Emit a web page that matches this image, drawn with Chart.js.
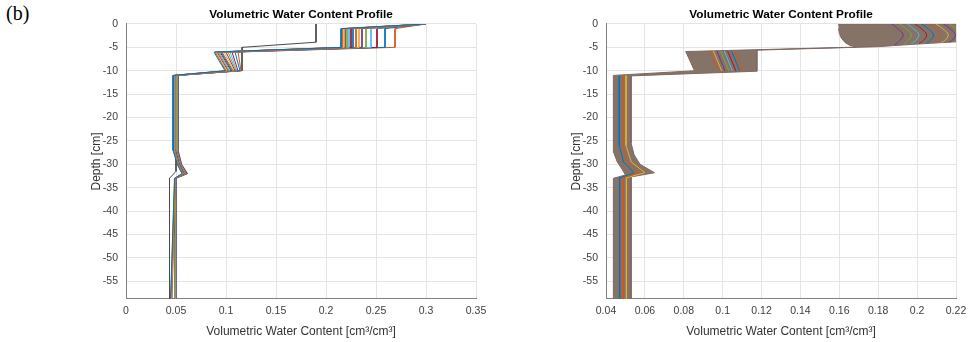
<!DOCTYPE html>
<html>
<head>
<meta charset="utf-8">
<script src="https://cdn.jsdelivr.net/npm/chart.js@4.4.1/dist/chart.umd.min.js"></script>
<style>
  body { margin: 0; background: #fff; width: 970px; height: 342px; overflow: hidden; position: relative; }
  .panel { position: absolute; top: 0; width: 430px; height: 342px; }
  #tag { position: absolute; left: 6px; top: 2px; font: 20px "Liberation Serif", "Times New Roman", serif; color: #000; }
</style>
</head>
<body>
<div id="tag">(b)</div>
<div class="panel" style="left:86px"><canvas id="leftChart"></canvas></div>
<div class="panel" style="left:566px"><canvas id="rightChart"></canvas></div>
<script>
// MATLAB default line colours, cycled over the time steps
const lineColors = ['#0072BD', '#D95319', '#EDB120', '#7E2F8E', '#77AC30', '#4DBEEE', '#A2142F'];

// tick labels
const depthTicks = [0, -5, -10, -15, -20, -25, -30, -35, -40, -45, -50, -55];
const depthMin = -58.8;
const leftXTicks = [0, 0.05, 0.1, 0.15, 0.2, 0.25, 0.3, 0.35];
const rightXTicks = [0.04, 0.06, 0.08, 0.1, 0.12, 0.14, 0.16, 0.18, 0.2, 0.22];

// ---- left panel: each profile read at these depths [cm]
const leftKnots = [0, -1, -5, -6, -10, -11, -27, -30, -32, -33, -58.8];
const leftSurface = 0.30;
const leftTop = [0.215, 0.216, 0.218, 0.219, 0.221, 0.223, 0.225, 0.227, 0.230, 0.233, 0.236, 0.240, 0.245, 0.251, 0.259, 0.269];
const leftLayer2Top = [0.088, 0.089, 0.090, 0.091, 0.092, 0.093, 0.094, 0.095, 0.096, 0.098, 0.100, 0.102, 0.104, 0.106, 0.109, 0.112];
const leftLayer2Bottom = [0.099, 0.100, 0.101, 0.102, 0.103, 0.104, 0.105, 0.106, 0.107, 0.108, 0.109, 0.110, 0.111, 0.112, 0.114, 0.115];
const leftLayer3 = [0.0470, 0.0474, 0.0478, 0.0482, 0.0485, 0.0488, 0.0491, 0.0494, 0.0497, 0.0500, 0.0503, 0.0507, 0.0510, 0.0514, 0.0518, 0.0522];
const leftBulge = [0.0512, 0.0515, 0.0518, 0.0521, 0.0524, 0.0527, 0.0530, 0.0533, 0.0536, 0.0539, 0.0542, 0.0545, 0.0548, 0.0551, 0.0554, 0.0557];
const leftPeak = [0.0560, 0.0563, 0.0566, 0.0569, 0.0572, 0.0575, 0.0578, 0.0581, 0.0585, 0.0589, 0.0593, 0.0597, 0.0601, 0.0606, 0.0611, 0.0616];
const leftDeep = [0.0485, 0.0488, 0.0490, 0.0492, 0.0494, 0.0496, 0.0498, 0.0500, 0.0502, 0.0485, 0.0487, 0.0490, 0.0492, 0.0494, 0.0497, 0.0500];
const leftBottom = [0.0445, 0.0450, 0.0455, 0.0460, 0.0495, 0.0497, 0.0499, 0.0500, 0.0502, 0.0448, 0.0490, 0.0493, 0.0496, 0.0499, 0.0502, 0.0505];
// initial condition profile (dark grey)
const leftInitialX = [0.190, 0.190, 0.116, 0.116, 0.050, 0.050, 0.0435, 0.0435];
const leftInitialDepth = [0, -3.9, -5.0, -10.0, -11.0, -31.5, -33.0, -58.8];

// ---- right panel: outline of the dense bundle of profiles
const rightEnvelopeX = [0.1594, 0.2205, 0.2205, 0.2000, 0.1800, 0.1176, 0.1176, 0.0529, 0.0529, 0.0545, 0.0575, 0.0649, 0.0529, 0.0529,
  0.0438, 0.0438, 0.0500, 0.0485, 0.0458, 0.0440, 0.0438, 0.0855, 0.0810, 0.1690, 0.1655, 0.1630, 0.1610, 0.1600, 0.1596];
const rightEnvelopeDepth = [0, 0, -3.8, -4.3, -4.85, -5.6, -10.1, -11.1, -25.5, -28.0, -30.0, -31.8, -32.7, -58.8,
  -58.8, -33.0, -32.3, -31.2, -29.5, -27.5, -11.0, -10.0, -5.9, -4.95, -4.6, -4.0, -3.0, -2.0, -1.0];
// sparse profiles visible in the surface layer
const rightArcDepths = [0, -1, -2.3, -3.5];
const rightArcTop = [0.1869, 0.1911, 0.1949, 0.1989, 0.2023, 0.2061, 0.2097, 0.2135, 0.2166];
const rightArcUpper = [0.1900, 0.1942, 0.1981, 0.2021, 0.2056, 0.2094, 0.2131, 0.2169, 0.2201];
const rightArcMid = [0.1928, 0.1970, 0.2009, 0.2049, 0.2084, 0.2122, 0.2160, 0.2197, 0.2230];
const rightArcLower = [0.1912, 0.1954, 0.1993, 0.2033, 0.2068, 0.2106, 0.2144, 0.2181, 0.2214];
const rightArcEndX = [0.1885, 0.1930, 0.1970, 0.2010, 0.2048, 0.2088, 0.2125, 0.2163, 0.2198];
const rightArcEndDepth = [-4.45, -4.35, -4.25, -4.2, -4.1, -4.0, -3.95, -3.9, -3.85];
// sparse profiles visible in the second layer
const rightMidTopX = [0.0935, 0.0952, 0.0970, 0.0990, 0.1008, 0.1025, 0.1045, 0.1062];
const rightMidBottomX = [0.0978, 0.0995, 0.1012, 0.1032, 0.1050, 0.1068, 0.1088, 0.1105];
// sparse profiles visible in the deep layer
const rightLowDepths = [-11.05, -26, -29.5, -31.8, -32.9, -58.8];
const rightLowX = [0.0468, 0.0485, 0.0503];
const rightLowBendX = [0.0490, 0.0510, 0.0530];
const rightLowTipX = [0.0545, 0.0570, 0.0600];
const rightLowDeepX = [0.0470, 0.0488, 0.0505];

Chart.defaults.font.family = '"Liberation Sans", Arial, sans-serif';

function profile(xs, ys) {
  return xs.map((x, k) => ({ x: x, y: ys[k] }));
}

function lineSet(data, color, extra) {
  return Object.assign({ data: data, showLine: true, borderColor: color, backgroundColor: color,
    borderWidth: 1, pointRadius: 0, fill: false, tension: 0, order: 0 }, extra || {});
}

function axes(xTicks) {
  return {
    x: {
      type: 'linear', min: xTicks[0], max: xTicks[xTicks.length - 1],
      afterBuildTicks: s => { s.ticks = xTicks.map(v => ({ value: v })); },
      afterFit: s => { s.height = 43; },
      grid: { color: '#e4e4e4', drawTicks: false },
      border: { color: '#808080' },
      ticks: { padding: 6, color: '#404040', font: { size: 10.5 }, maxRotation: 0, autoSkip: false, callback: v => String(v) },
      title: { display: true, text: 'Volumetric Water Content [cm³/cm³]', color: '#333', font: { size: 12 }, padding: { top: 0, bottom: 3 } }
    },
    y: {
      type: 'linear', min: depthMin, max: 0,
      afterBuildTicks: s => { s.ticks = depthTicks.map(v => ({ value: v })); },
      afterFit: s => { s.width = 40; },
      grid: { color: '#e4e4e4', drawTicks: false },
      border: { color: '#808080' },
      ticks: { padding: 8, color: '#404040', font: { size: 10.5 }, autoSkip: false, callback: v => String(v) },
      title: { display: true, text: 'Depth [cm]', color: '#333', font: { size: 12 }, padding: { top: 3, bottom: 0 } }
    },
    // empty right-hand strip so the panel title centres over the plot area
    spacer: {
      type: 'linear', position: 'right', display: true,
      grid: { display: false }, border: { display: false }, ticks: { display: false },
      afterFit: s => { s.width = 40; }
    }
  };
}

function options(xTicks) {
  return {
    responsive: true, maintainAspectRatio: false, animation: false,
    layout: { padding: 0 },
    scales: axes(xTicks),
    plugins: {
      legend: { display: false },
      tooltip: { enabled: false },
      title: { display: true, text: 'Volumetric Water Content Profile', color: '#000',
        font: { size: 11.8, weight: 'bold' }, padding: { top: 8, bottom: 1.8 } }
    }
  };
}

// left panel datasets
const leftSets = [lineSet(profile(leftInitialX, leftInitialDepth), '#4a4a4a', { order: 1 })];
for (let i = 0; i < leftTop.length; i++) {
  const xs = [leftSurface, leftTop[i], leftTop[i], leftLayer2Top[i], leftLayer2Bottom[i], leftLayer3[i], leftLayer3[i],
    leftBulge[i], leftPeak[i], leftDeep[i], leftBottom[i]];
  leftSets.push(lineSet(profile(xs, leftKnots), lineColors[i % lineColors.length]));
}

new Chart(document.getElementById('leftChart'), {
  type: 'scatter',
  data: { datasets: leftSets },
  options: options(leftXTicks)
});

// right panel datasets
const rightSets = [lineSet(profile(rightEnvelopeX, rightEnvelopeDepth), '#7f6862',
  { fill: 'shape', backgroundColor: '#867367', order: 2 })];
for (let i = 0; i < rightArcTop.length; i++) {
  const xs = [rightArcTop[i], rightArcUpper[i], rightArcMid[i], rightArcLower[i], rightArcEndX[i]];
  const ys = rightArcDepths.concat([rightArcEndDepth[i]]);
  rightSets.push(lineSet(profile(xs, ys), lineColors[(i + 3) % lineColors.length], { tension: 0.4 }));
}
for (let i = 0; i < rightMidTopX.length; i++) {
  rightSets.push(lineSet(profile([rightMidTopX[i], rightMidBottomX[i]], [-5.75, -10.05]), lineColors[(i + 1) % lineColors.length]));
}
for (let i = 0; i < rightLowX.length; i++) {
  const xs = [rightLowX[i], rightLowX[i], rightLowBendX[i], rightLowTipX[i], rightLowDeepX[i], rightLowDeepX[i]];
  rightSets.push(lineSet(profile(xs, rightLowDepths), lineColors[i]));
}

new Chart(document.getElementById('rightChart'), {
  type: 'scatter',
  data: { datasets: rightSets },
  options: options(rightXTicks)
});
</script>
</body>
</html>
